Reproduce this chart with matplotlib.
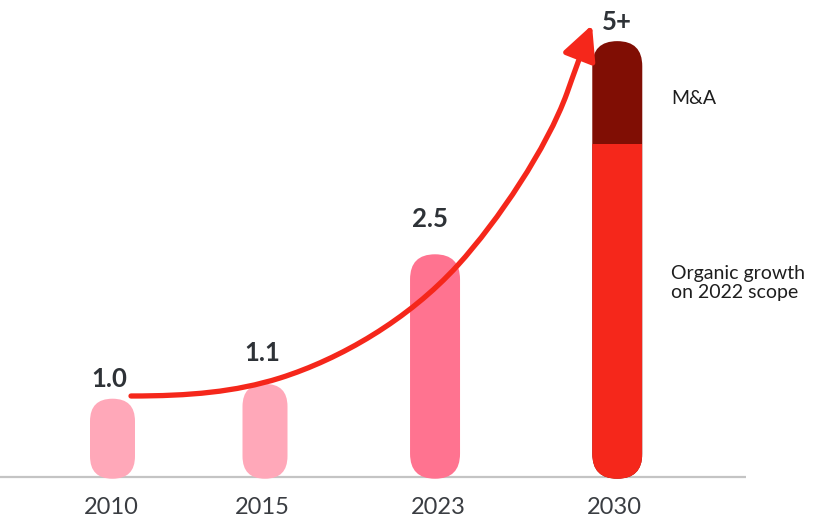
import matplotlib.pyplot as plt
from matplotlib.patches import FancyBboxPatch, FancyArrowPatch
from matplotlib.path import Path

# data (bar heights, labels as printed)
years = ['2010', '2015', '2023', '2030']
base_values = [0.90, 1.07, 2.56, 3.83]   # organic / base part
ma_values = [0.0, 0.0, 0.0, 1.18]        # M&A part on top
value_labels = ['1.0', '1.1', '2.5', '5+']

# layout
W, H = 815, 518
x_pos = [0.0, 1.0, 2.115, 3.31]
bar_px = [45, 45, 50, 50]
label_gap_px = [20, 31, 35, 19]
label_dx = [-0.02, -0.02, -0.03, 0.0]
year_dx = [-0.01, -0.02, 0.02, -0.02]
colors = ['#FFA8B9', '#FFA8B9', '#FF7390', '#F5271B']
ma_color = '#800E04'
red = '#F5271B'
dark = '#2E3237'

x_unit, y_unit = 152.5, 87.0      # pixels per data unit
x0_px, base_px = 112.5, 477.0     # pixel of x=0 and of the baseline


def px(xp, yp):
    return (xp - x0_px) / x_unit, (base_px - yp) / y_unit


fig = plt.figure(figsize=(W / 100, H / 100), dpi=100)
ax = fig.add_axes([0, 0, 1, 1])
ax.set_xlim(-x0_px / x_unit, (W - x0_px) / x_unit)
ax.set_ylim(-(H - base_px) / y_unit, base_px / y_unit)
ax.axis('off')

aspect = x_unit / y_unit

# baseline
ax.plot([ax.get_xlim()[0], px(746, 0)[0]], [0, 0], color='#C4C4C4', lw=1.6, zorder=0,
        solid_capstyle='butt')

for x, w_px, h, ma, col, lab, gap, dx, ydx, yr in zip(x_pos, bar_px, base_values, ma_values,
                                                       colors, value_labels, label_gap_px,
                                                       label_dx, year_dx, years):
    w = w_px / x_unit
    total = h + ma
    bottom = -0.02
    face = ma_color if ma > 0 else col
    cap = FancyBboxPatch((x - w / 2, bottom), w, total - bottom,
                         boxstyle=f'round,pad=0,rounding_size={w / 2}',
                         mutation_aspect=aspect, facecolor=face, edgecolor='none',
                         zorder=2)
    ax.add_patch(cap)
    if ma > 0:
        b = ax.bar(x, h - bottom, width=w, bottom=bottom, color=col, zorder=3,
                   linewidth=0)
        b[0].set_clip_path(cap)
    ax.text(x + dx, total + gap / y_unit, lab, ha='center', va='center',
            fontsize=18.5, fontweight='bold', color=dark, family='Lato', zorder=5)
    ax.text(x + ydx, px(0, 507)[1], yr, ha='center', va='center', fontsize=17,
            color='#3A3D42', family='Lato')

# side annotations
ax.text(*px(671, 98), 'M&A', ha='left', va='center', fontsize=14,
        color='#1E1E1E', family='Lato')
ax.text(*px(671, 283), 'Organic growth\non 2022 scope', ha='left', va='center',
        fontsize=14, color='#1E1E1E', family='Lato', linespacing=1.08)

# growth arrow
verts = [px(131, 396),
         px(190, 396), px(235, 392), px(280, 378),
         px(340, 359), px(408, 320), px(458, 265),
         px(498, 221), px(547, 148), px(567, 93),
         px(573, 76), px(583, 48), px(592, 25)]
codes = [Path.MOVETO] + [Path.CURVE4] * 12
arrow = FancyArrowPatch(path=Path(verts, codes),
                        arrowstyle='-|>,head_length=1.05,head_width=0.52',
                        mutation_scale=20, color=red, lw=3.8, zorder=4)
ax.add_patch(arrow)

fig.savefig('out.png', dpi=100)
